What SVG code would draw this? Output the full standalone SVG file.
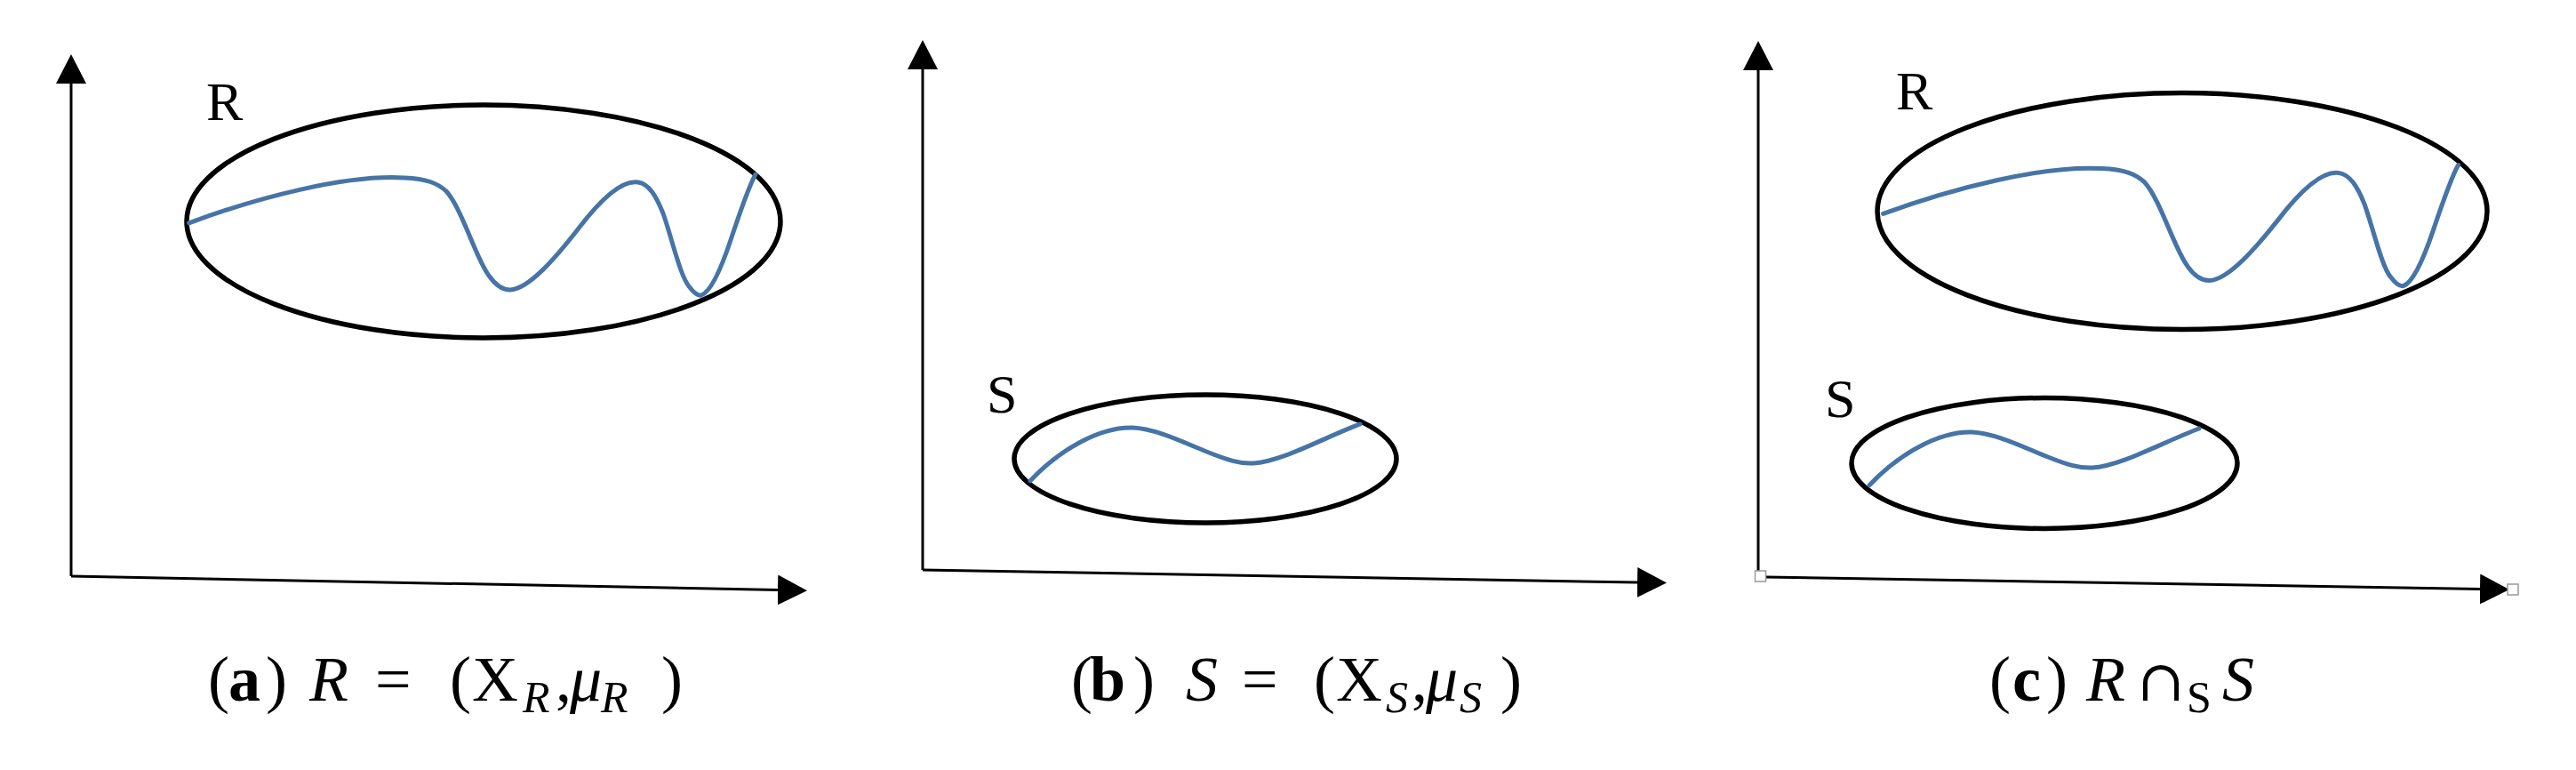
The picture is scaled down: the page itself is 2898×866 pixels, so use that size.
<svg xmlns="http://www.w3.org/2000/svg" xmlns:xlink="http://www.w3.org/1999/xlink" width="2898" height="866" viewBox="0 0 2898 866">
<style>
.axis{stroke:#000;stroke-width:3;fill:none}
.ell{stroke:#000;stroke-width:5.5;fill:none}
.curve{stroke:#4674a6;stroke-width:5;fill:none;stroke-linecap:round;stroke-linejoin:round}
.lbl{font-family:"Liberation Serif","DejaVu Serif",serif;font-size:62px;fill:#000}
.cap{font-family:"Liberation Serif","DejaVu Serif",serif;font-size:72px;fill:#000}
.b{font-weight:bold}
.i{font-style:italic}
.sub{font-size:50px}
.cup{font-family:"DejaVu Serif",serif;font-size:64px}
.hnd{fill:#fff;stroke:#999;stroke-width:1.5}
</style>
<defs>
<marker id="ah" markerUnits="userSpaceOnUse" markerWidth="34" markerHeight="34" refX="0" refY="17" orient="auto" viewBox="0 0 34 34">
<path d="M0,0 L33,17 L0,34 z" fill="#000"/>
</marker>
<path id="rcurve" d="M212.6,250.8 C290,222 390,196 455,200 C480,201 492,206 502,215 C520,235 535,290 550,310 C557,320 565,326 574,326 C595,325 625,290 650,258 C675,225 700,202 718,205 C730,207 738,220 746,240 C755,265 765,310 775,322 C781,330 785,333 789,332 C800,328 812,300 822,270 C832,240 842,210 850,196"/>
<path id="scurve" d="M1159,540.7 C1190,508 1235,480 1274,481 C1300,482 1330,497 1360,509 C1380,517 1395,522 1410,521 C1440,520 1490,492 1530,477"/>
</defs>
<g id="connectors">
<line class="axis" x1="80" y1="648" x2="80" y2="94" marker-end="url(#ah)"/>
<line class="axis" x1="80" y1="648" x2="875" y2="663.5" marker-end="url(#ah)"/>
<line class="axis" x1="1038" y1="641" x2="1038" y2="78" marker-end="url(#ah)"/>
<line class="axis" x1="1038" y1="641" x2="1842" y2="655" marker-end="url(#ah)"/>
<line class="axis" x1="1978" y1="642" x2="1978" y2="79" marker-end="url(#ah)"/>
<line class="axis" x1="1987" y1="649" x2="2790" y2="662.5" marker-end="url(#ah)"/>
<rect class="hnd" x="1974.5" y="642" width="12" height="12"/>
<rect class="hnd" x="2821" y="657" width="12" height="12"/>
</g>
<g id="panel-a-R">
<ellipse class="ell" cx="544" cy="249" rx="334" ry="131"/>
<use xlink:href="#rcurve" class="curve"/>
<text class="lbl" x="232" y="135">R</text>
</g>
<g id="panel-b-S">
<ellipse class="ell" cx="1356" cy="516" rx="215" ry="72"/>
<use xlink:href="#scurve" class="curve"/>
<text class="lbl" x="1110" y="464">S</text>
</g>
<g id="panel-c-R">
<ellipse class="ell" cx="2455" cy="237.6" rx="343" ry="133"/>
<use xlink:href="#rcurve" class="curve" transform="translate(2455,237.6) scale(1.015,1) translate(-544,-248)"/>
<text class="lbl" x="2133" y="123">R</text>
</g>
<g id="panel-c-S">
<ellipse class="ell" cx="2300" cy="521" rx="217" ry="73.5"/>
<use xlink:href="#scurve" class="curve" transform="translate(944,5)"/>
<text class="lbl" x="2053" y="469">S</text>
</g>
<g id="caption-a">
<text class="cap" y="788"><tspan x="234">(</tspan><tspan x="257" class="b">a</tspan><tspan x="299">)</tspan><tspan x="348" class="i">R</tspan><tspan x="422">=</tspan><tspan x="506">(</tspan><tspan x="531">X</tspan><tspan x="588" y="801" class="i sub">R</tspan><tspan x="625" y="788">,</tspan><tspan x="641" class="i">μ</tspan><tspan x="676" y="801" class="i sub">R</tspan><tspan x="744" y="788">)</tspan></text>
</g>
<g id="caption-b">
<text class="cap" y="788"><tspan x="1205">(</tspan><tspan x="1226" class="b">b</tspan><tspan x="1275">)</tspan><tspan x="1334" class="i">S</tspan><tspan x="1397">=</tspan><tspan x="1478">(</tspan><tspan x="1503">X</tspan><tspan x="1559" y="801" class="i sub">S</tspan><tspan x="1588" y="788">,</tspan><tspan x="1604" class="i">μ</tspan><tspan x="1642" y="801" class="i sub">S</tspan><tspan x="1688" y="788">)</tspan></text>
</g>
<g id="caption-c">
<text class="cap" y="788"><tspan x="2238">(</tspan><tspan x="2264" class="b">c</tspan><tspan x="2302">)</tspan><tspan x="2347" class="i">R</tspan><tspan x="2404" class="cup">∩</tspan><tspan x="2460" y="801" class="sub">S</tspan><tspan x="2500" y="788" class="i">S</tspan></text>
</g>
</svg>
